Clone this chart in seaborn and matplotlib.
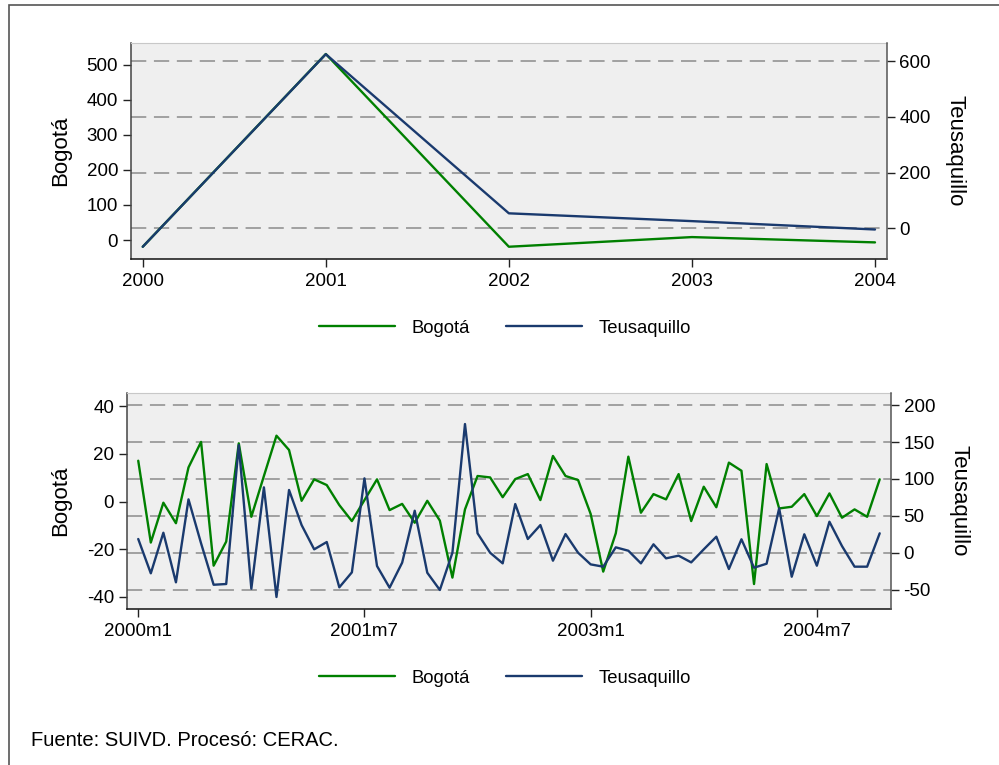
import matplotlib
matplotlib.use("Agg")
import matplotlib.pyplot as plt
import matplotlib.ticker as ticker
from matplotlib.lines import Line2D
from matplotlib.patches import Rectangle
import numpy as np
import seaborn as sns

# annual series (top panel)
years = [2000, 2001, 2002, 2003, 2004]
bogota_year = [-19, 530, -19, 8.5, -6.6]
teusa_year = [-66, 625, 54, 26, -4]

# monthly series (bottom panel), 2000m1 .. 2004m12
months = [f"{y}m{m}" for y in range(2000, 2005) for m in range(1, 13)]
bogota_month = [17.1, -17.2, -0.5, -9.1, 14.3, 25.0, -26.9, -16.8, 24.4, -6.4,
                10.7, 27.6, 21.6, 0.3, 9.3, 6.9, -1.5, -8.2, 0.6, 9.3,
                -3.6, -1.0, -8.9, 0.3, -8.0, -31.9, -3.3, 10.7, 10.1, 1.8,
                9.4, 11.5, 0.6, 19.1, 10.7, 9.0, -5.2, -29.4, -13.3,
                18.8, -4.7, 3.1, 0.9, 11.5, -8.2, 6.2, -2.4, 16.3, 12.9,
                -34.6, 15.7, -2.9, -2.2, 3.1, -6.1, 3.4, -6.8, -3.3, -6.4, 9.3]
teusa_month = [18.6, -27.9, 27.1, -40.1, 72.3, 12.7, -43.4, -42.4, 145.9, -48.8,
               88.6, -60.0, 85.0, 37.5, 4.6, 14.5, -46.9, -26.6, 100.8, -18.0,
               -47.4, -13.5, 56.9, -27.1, -50.5, 0.0, 174.4, 26.3, 0.0, -14.4,
               66.0, 18.6, 37.5, -10.8, 25.3, 0.0, -15.8, -18.9, 7.3,
               2.7, -14.4, 11.4, -7.6, -4.0, -13.1, 4.6, 21.7, -22.1, 18.2,
               -20.3, -14.9, 60.2, -32.5, 25.0, -17.6, 42.0, 9.0, -18.9, -18.9, 26.3]
month_ticks = ["2000m1", "2001m7", "2003m1", "2004m7"]

GREEN = "#008000"
NAVY = "#1a3a6e"
BG = "#efefef"

sns.set_style("white")
plt.rcParams["font.family"] = ["Liberation Sans", "DejaVu Sans"]
plt.rcParams["axes.unicode_minus"] = False
plt.rcParams["lines.scale_dashes"] = False
plt.rcParams.update({"text.color": "black", "axes.labelcolor": "black",
                     "xtick.color": "black", "ytick.color": "black"})

tick_fs = 13.5
label_fs = 16
legend_fs = 13.3


def panel(fig, rect, x, left_vals, right_vals, xlim, llim, rlim, lticks, rticks,
          xticks, xticklabels, legend_y):
    ax = fig.add_axes(rect)
    ax.set_facecolor(BG)
    sns.lineplot(x=x, y=left_vals, ax=ax, color=GREEN, linewidth=1.7, legend=False)
    ax2 = ax.twinx()
    sns.lineplot(x=x, y=right_vals, ax=ax2, color=NAVY, linewidth=1.7, legend=False)

    ax.set_xlim(*xlim)
    ax.set_ylim(*llim)
    ax2.set_ylim(*rlim)
    ax.set_yticks(lticks)
    ax2.set_yticks(rticks)
    ax.set_xticks(xticks)
    ax.set_xticklabels(xticklabels)

    # grid follows the right axis ticks, drawn on the left axes so lines sit above it
    grid_pos = [llim[0] + (v - rlim[0]) * (llim[1] - llim[0]) / (rlim[1] - rlim[0])
                for v in rticks]
    ax.yaxis.set_minor_locator(ticker.FixedLocator(grid_pos))
    ax.grid(which="minor", axis="y", color="#9a9a9a", linewidth=1.3,
            linestyle=(0, (11, 5.5)))
    ax.grid(which="major", visible=False)
    ax.tick_params(which="minor", length=0)

    ax.tick_params(axis="both", which="major", direction="out", length=5.5,
                   width=1, color="#222", labelsize=tick_fs, pad=3.5, left=True,
                   bottom=True)
    ax.tick_params(axis="x", pad=4.5)
    ax2.tick_params(axis="y", direction="out", length=5.5, width=1, color="#222",
                    labelsize=tick_fs, pad=3.5, right=True)

    ax.spines["top"].set_color("#c8c8c8")
    ax.spines["left"].set_color("#444")
    ax.spines["bottom"].set_color("#111")
    ax.spines["right"].set_visible(False)
    for s in ["top", "left", "bottom"]:
        ax2.spines[s].set_visible(False)
    ax2.spines["right"].set_color("#555")
    for s in ["left", "bottom"]:
        ax.spines[s].set_linewidth(1.1)
    ax2.spines["right"].set_linewidth(1.1)

    ax.set_xlabel("")
    ax.set_ylabel("Bogotá", fontsize=label_fs, labelpad=11)
    ax2.set_ylabel("Teusaquillo", fontsize=label_fs, rotation=270, va="bottom",
                   labelpad=10)

    handles = [Line2D([], [], color=GREEN, linewidth=1.7),
               Line2D([], [], color=NAVY, linewidth=1.7)]
    fig.legend(handles, ["Bogotá", "Teusaquillo"], loc="center",
               bbox_to_anchor=(0.5055, legend_y), ncol=2, frameon=False,
               fontsize=legend_fs, handlelength=4.1, handletextpad=0.9,
               columnspacing=2.0)
    return ax, ax2


fig = plt.figure(figsize=(9.99, 7.65), dpi=100)
fig.patch.set_facecolor("white")

panel(fig, [0.1308, 0.6614, 0.7568, 0.2827], years, bogota_year, teusa_year,
      (1999.934, 2004.064), (-54, 562), (-110, 666),
      [0, 100, 200, 300, 400, 500], [0, 200, 400, 600],
      years, [str(y) for y in years], 0.5712)

xm = np.arange(len(months))
panel(fig, [0.1268, 0.2035, 0.7651, 0.2831], xm, bogota_month, teusa_month,
      (-0.92, 59.9), (-45.2, 45.6), (-76.7, 216.8),
      [-40, -20, 0, 20, 40], [-50, 0, 50, 100, 150, 200],
      [months.index(t) for t in month_ticks], month_ticks, 0.1137)

fig.text(31 / 999, 1 - 740 / 765, "Fuente: SUIVD. Procesó: CERAC.",
         fontsize=14.5, ha="left", va="center")

# outer frame
fig.patches.append(Rectangle((8.5 / 999, -0.1), 1.2, 1.1 - 5.5 / 765,
                             transform=fig.transFigure, fill=False,
                             edgecolor="#555", linewidth=1.2))

fig.savefig("out.png", dpi=100)
